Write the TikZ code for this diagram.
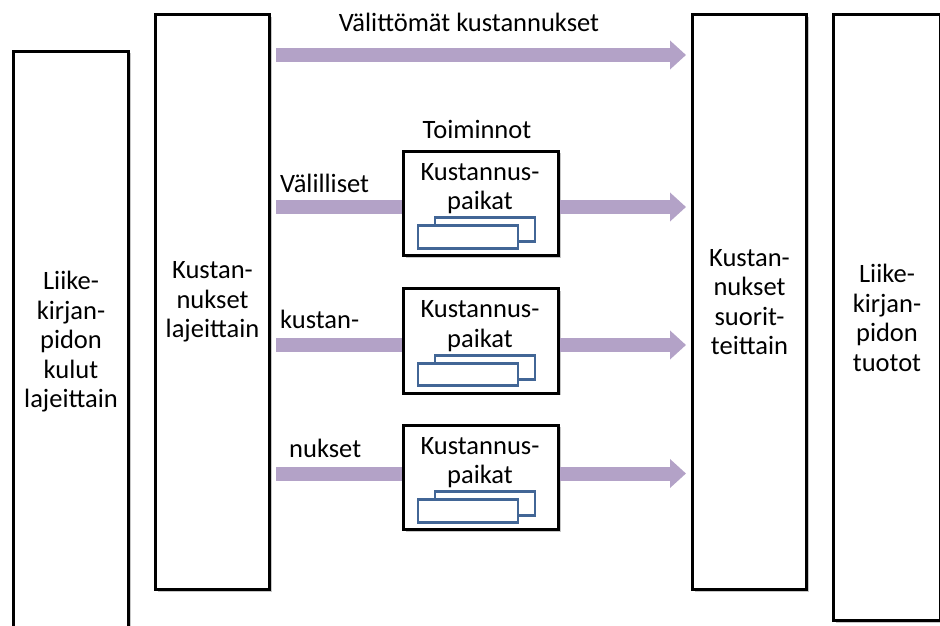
\documentclass[tikz,border=0pt]{standalone}
\usepackage{fontspec}
\setmainfont{Carlito}
\usetikzlibrary{arrows.meta,shadows,calc}
\definecolor{arrowpurple}{RGB}{179,162,199}
\definecolor{stackblue}{RGB}{66,102,150}
\newcommand\diagfont{\fontsize{26.5}{29.5}\selectfont}
\begin{document}
\begin{tikzpicture}[x=1pt,y=-1pt,
  shadowed/.style={drop shadow={shadow xshift=2pt,shadow yshift=-2pt,opacity=0.22,fill=black}},
  bigbox/.style={draw=black,line width=3pt,fill=white,inner sep=0pt,align=center,font=\diagfont,shadowed},
  smallbox/.style={draw=black,line width=3pt,fill=white,inner sep=0pt,minimum width=155pt,minimum height=104.5pt,shadowed},
  stackrect/.style={draw=stackblue,line width=2.6pt,fill=white},
  lbl/.style={font=\diagfont,inner sep=0pt,align=center},
  flow/.style={draw=arrowpurple,line width=14pt},
  flowarrow/.style={flow,-{Triangle[length=16pt,width=28pt]},shorten >=5pt}
]
\useasboundingbox (0,0) rectangle (940,626);
\clip (0,0) rectangle (940,626);

% coordinates of the flow levels
\coordinate (top) at (480,55);
\coordinate (r1) at (480,207);
\coordinate (r2) at (480,345);
\coordinate (r3) at (480,473.5);

% big boxes
\node[bigbox,minimum width=115pt,minimum height=581pt] (b1) at (71,342)
  {Liike-\\kirjan-\\pidon\\kulut\\lajeittain};
\node[bigbox,minimum width=114pt,minimum height=574.5pt] (b2) at (212.5,302.25)
  {Kustan-\\nukset\\lajeittain};
\node[bigbox,minimum width=114pt,minimum height=574.5pt] (b3) at (749.5,302.25)
  {Kustan-\\nukset\\suorit-\\teittain};
\node[bigbox,minimum width=107pt,minimum height=605.5pt] (b4) at (887,317.75)
  {Liike-\\kirjan-\\pidon\\tuotot};

% small boxes
\node[smallbox] (k1) at (481,203.5) {};
\node[smallbox] (k2) at (481,341) {};
\node[smallbox] (k3) at (481,477.5) {};

% arrows
\draw[flowarrow,shorten <=5pt] (b2.east |- top) -- (b3.west |- top);
\draw[flow,shorten <=5pt] (b2.east |- r1) -- (k1.west |- r1);
\draw[flow,shorten <=5pt] (b2.east |- r2) -- (k2.west |- r2);
\draw[flow,shorten <=5pt] (b2.east |- r3) -- (k3.west |- r3);
\draw[flowarrow] (k1.east |- r1) -- (b3.west |- r1);
\draw[flowarrow] (k2.east |- r2) -- (b3.west |- r2);
\draw[flowarrow] (k3.east |- r3) -- (b3.west |- r3);

\foreach \k in {k1,k2,k3}{
  \draw[stackrect] ($(\k.north west)+(33,68)$) rectangle +(100,24);
  \draw[stackrect] ($(\k.north west)+(16,76)$) rectangle +(100,22.5);
  \node[lbl,anchor=base] (\k t) at ($(\k.north west)+(78,60)$) {Kustannus-\\paikat};
}

% labels
\node[lbl,anchor=base] (direct) at (469,32) {Välittömät kustannukset};
\node[lbl,anchor=base] (toim) at (477,138) {Toiminnot};
\node[lbl,anchor=base west] (v1) at (280,192) {Välilliset};
\node[lbl,anchor=base west] (v2) at (280,328) {kustan-};
\node[lbl,anchor=base west] (v3) at (289,457) {nukset};
\end{tikzpicture}
\end{document}
